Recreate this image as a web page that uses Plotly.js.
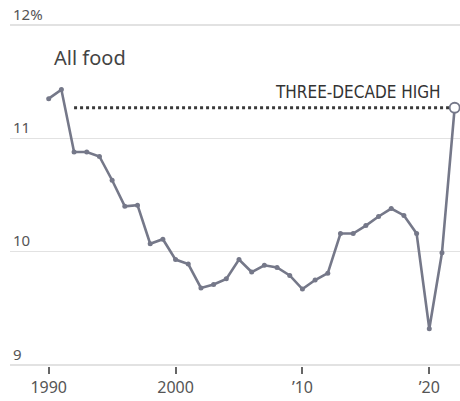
<!DOCTYPE html>
<html>
<head>
<meta charset="utf-8">
<script src="https://cdn.plot.ly/plotly-3.0.1.min.js"></script>
<style>html,body{margin:0;padding:0;background:#fff;}#chart{width:460px;height:401px;}</style>
</head>
<body>
<div id="chart"></div>
<script>
const years = [1990,1991,1992,1993,1994,1995,1996,1997,1998,1999,2000,2001,2002,2003,2004,2005,2006,2007,2008,2009,2010,2011,2012,2013,2014,2015,2016,2017,2018,2019,2020,2021,2022];
const allFood = [11.35,11.43,10.88,10.88,10.84,10.63,10.40,10.41,10.07,10.11,9.93,9.89,9.68,9.71,9.76,9.93,9.82,9.88,9.86,9.79,9.67,9.75,9.81,10.16,10.16,10.23,10.31,10.38,10.32,10.16,9.32,9.99,11.27];
const highYears = [1992, 2022];
const highLabel = 'THREE-DECADE HIGH';
const seriesLabel = 'All food';
const xTickVals = [1990,2000,2010,2020];
const xTickText = ['1990','2000','\u201910','\u201920'];
const yTickVals = [9,10,11,12];
const yTickText = ['9','10','11','12%'];

const lineColor = '#757889';
const high = allFood[allFood.length-1];

const traces = [
  {x: highYears, y: [high, high], mode:'lines', line:{color:'#3a3a3a', width:3, dash:'dot'}, hoverinfo:'skip', cliponaxis:false},
  {x: years, y: allFood, mode:'lines+markers', line:{color:lineColor, width:2.6}, marker:{color:lineColor, size:5}, cliponaxis:false},
  {x: [years[years.length-1]], y: [high], mode:'markers', marker:{color:'#fff', size:10, line:{color:lineColor, width:1.8}}, cliponaxis:false}
];

const layout = {
  width:460, height:401,
  margin:{l:10, r:0, t:0, b:35},
  paper_bgcolor:'#fff', plot_bgcolor:'#fff',
  showlegend:false,
  font:{family:'Noto Sans, Open Sans, sans-serif', color:'#555'},
  xaxis:{range:[1986.95, 2022.42], tickvals:xTickVals, ticktext:xTickText, ticks:'outside', ticklen:7, tickwidth:2, tickcolor:'#666',
         showgrid:false, zeroline:false, showline:false, tickfont:{size:16, color:'#555'}},
  yaxis:{range:[8.991, 12.2206], tickvals:yTickVals, ticktext:yTickText, ticklabelposition:'inside top', showgrid:true, gridcolor:'#e2e2e2', gridwidth:1.5,
         zeroline:false, showline:false, tickfont:{size:15, color:'#555'}},
  annotations:[
    {xref:'paper', yref:'y', x:0.093, y:11.71, text:seriesLabel, showarrow:false, xanchor:'left', yanchor:'middle', font:{size:20, color:'#444'}},
    {xref:'x', yref:'y', x:2021.1, y:high, yshift:16, text:highLabel, showarrow:false, xanchor:'right', yanchor:'middle', font:{family:'Liberation Sans Narrow, DejaVu Sans Condensed, sans-serif', size:17, color:'#333'}}
  ]
};

Plotly.newPlot('chart', traces, layout, {displayModeBar:false, staticPlot:true});
</script>
</body>
</html>
